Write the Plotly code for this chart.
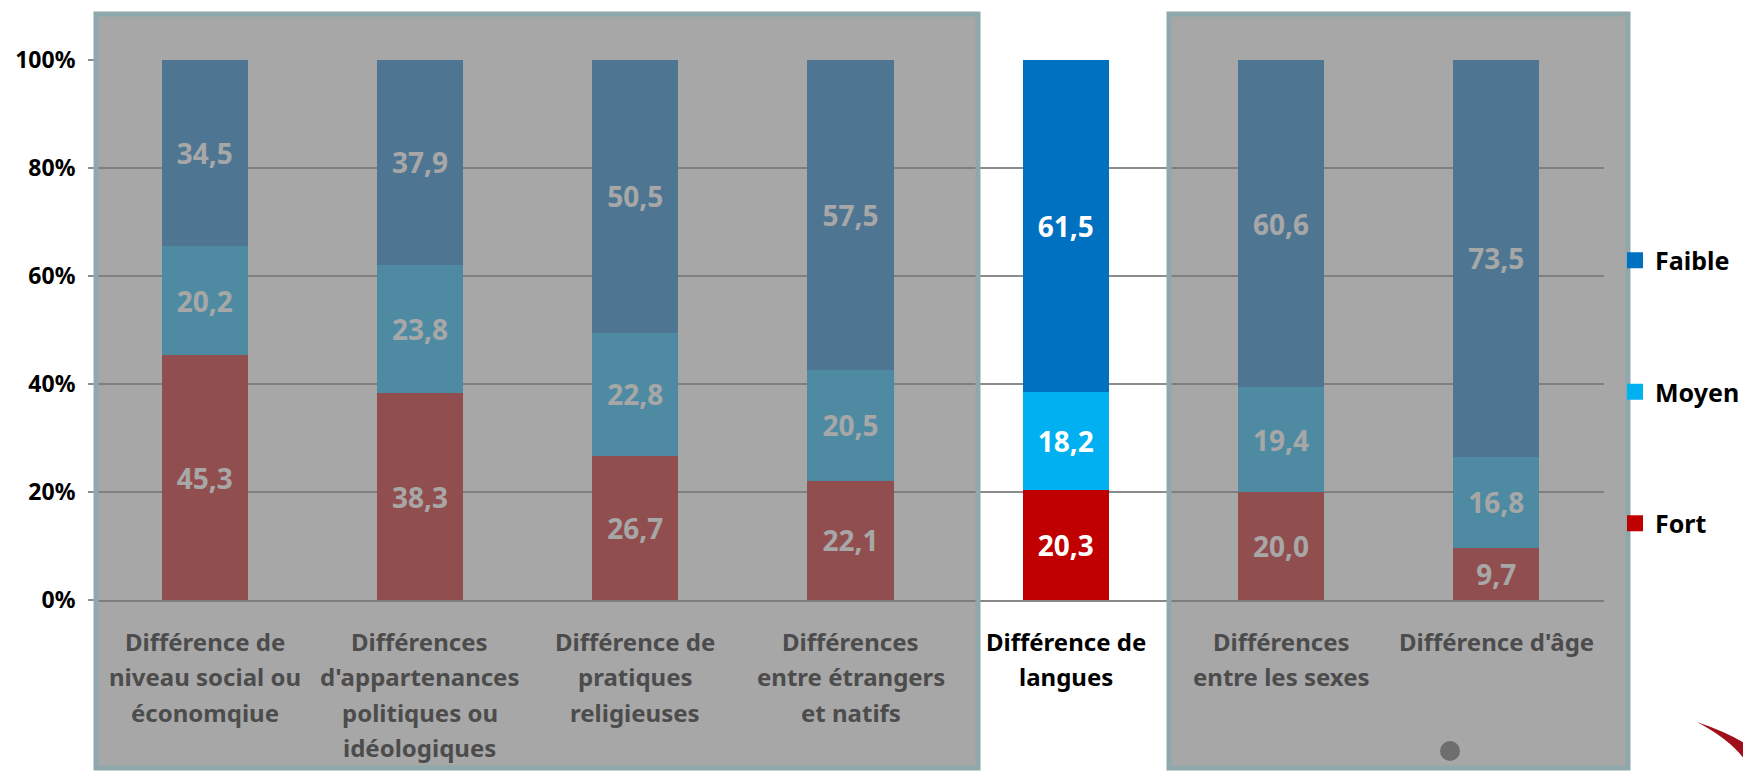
import plotly.graph_objects as go

categories = [
    "Différence de<br>niveau social ou<br>économqiue",
    "Différences<br>d'appartenances<br>politiques ou<br>idéologiques",
    "Différence de<br>pratiques<br>religieuses",
    "Différences<br>entre étrangers<br>et natifs",
    "Différence de<br>langues",
    "Différences<br>entre les sexes",
    "Différence d'âge",
]
highlighted = [False, False, False, False, True, False, False]
fort = [45.3, 38.3, 26.7, 22.1, 20.3, 20.0, 9.7]
moyen = [20.2, 23.8, 22.8, 20.5, 18.2, 19.4, 16.8]
faible = [34.5, 37.9, 50.5, 57.5, 61.5, 60.6, 73.5]
y_ticks = [0, 20, 40, 60, 80, 100]
series = [("Fort", fort, "#C00000"), ("Moyen", moyen, "#00B0F0"), ("Faible", faible, "#0070C0")]

FONT = "Noto Sans"
x = list(range(len(categories)))

def fmt(v):
    return [f"{a:.1f}".replace(".", ",") for a in v]

fig = go.Figure()
for name, vals, color in series:
    fig.add_trace(go.Bar(
        x=x, y=vals, name=name, marker=dict(color=color, line=dict(width=0)),
        text=fmt(vals), textposition="inside", insidetextanchor="middle",
        textfont=dict(family=FONT, size=28, color="white", weight="bold"),
        showlegend=False,
    ))
# legend entries (square markers), top to bottom: Faible, Moyen, Fort
for name, vals, color in reversed(series):
    fig.add_trace(go.Scatter(
        x=[None], y=[None], mode="markers", name=name, legendgroup=name,
        marker=dict(symbol="square", size=16, color=color),
    ))

# page offset (body margin of 8px)
OFF = 8
W, H = 1751, 771
PL, PT, PR, PB = 97, 60, 1604, 600   # plot area in page pixels
L, T = PL - OFF, PT - OFF
R, B = W - (PR - OFF), H - (PB - OFF)
pw, ph = PR - PL, PB - PT

def px_x(p):
    return (p - PL) / pw

def px_y(p):
    return (PB - p) / ph

panel_style = dict(type="rect", xref="paper", yref="paper", layer="above",
                   fillcolor="rgba(120,120,120,0.65)",
                   line=dict(color="#8FA8AB", width=5))
fig.add_shape(x0=px_x(96), x1=px_x(978), y0=px_y(768), y1=px_y(14), **panel_style)
fig.add_shape(x0=px_x(1169), x1=px_x(1628), y0=px_y(768), y1=px_y(14), **panel_style)

# small grey dot inside second panel
fig.add_shape(type="circle", xref="paper", yref="paper", layer="above",
              x0=px_x(1440), x1=px_x(1460), y0=px_y(761), y1=px_y(741),
              fillcolor="#6E6E6E", line=dict(width=0))

# category labels, one annotation per line
for xi, (lab, hi) in enumerate(zip(categories, highlighted)):
    for i, line in enumerate(lab.split("<br>")):
        fig.add_annotation(
            x=xi, y=0, xref="x", yref="y", text=line, showarrow=False,
            yanchor="middle", xanchor="center", yshift=-(41 + 35.5 * i),
            font=dict(family=FONT, size=24, weight="bold",
                      color="black" if hi else "rgb(76,76,76)"),
        )

# logo swoosh bottom-right
fig.add_shape(type="path", xref="paper", yref="paper", layer="above",
              path=(f"M {px_x(1697)},{px_y(722)} "
                    f"Q {px_x(1735)},{px_y(735)} {px_x(1751)},{px_y(748)} "
                    f"L {px_x(1751)},{px_y(771)} "
                    f"Q {px_x(1740)},{px_y(745)} {px_x(1697)},{px_y(722)} Z"),
              fillcolor="#A0101A", line=dict(width=0))

fig.update_layout(
    width=W, height=H,
    margin=dict(l=L, r=R, t=T, b=B, autoexpand=False),
    barmode="stack", bargap=0.6,
    plot_bgcolor="white", paper_bgcolor="white",
    font=dict(family=FONT, color="black"),
    showlegend=True,
    legend=dict(x=px_x(1615), y=px_y(392), xanchor="left", yanchor="middle",
                traceorder="grouped", tracegroupgap=96,
                bgcolor="rgba(0,0,0,0)",
                font=dict(family=FONT, size=25, color="black", weight="bold"),
                itemwidth=30),
    xaxis=dict(tickmode="array", tickvals=x, showticklabels=False,
               range=[-0.5, 6.5], showgrid=False, showline=True,
               linecolor="#888888", linewidth=2, ticks=""),
    yaxis=dict(range=[0, 100], tickvals=y_ticks,
               ticktext=[f"{v}%" for v in y_ticks],
               showgrid=True, gridcolor="#8C8C8C", gridwidth=2,
               zeroline=False, ticks="outside", ticklen=8, tickcolor="#8C8C8C",
               tickwidth=2, ticklabelstandoff=8,
               tickfont=dict(family=FONT, size=23, color="black", weight="bold")),
)

fig.write_html("out.html")
